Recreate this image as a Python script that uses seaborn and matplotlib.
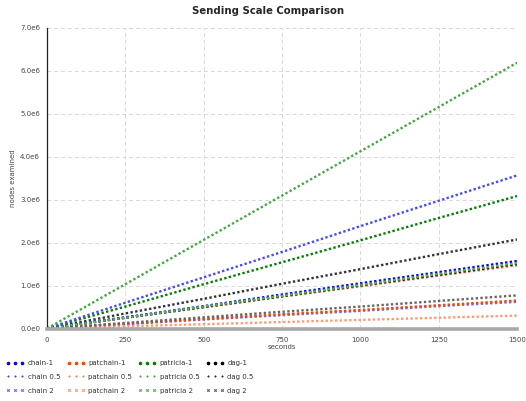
import matplotlib
matplotlib.use("Agg")
import matplotlib.pyplot as plt
from matplotlib.lines import Line2D
from matplotlib.ticker import FuncFormatter, MultipleLocator
import seaborn as sns
import pandas as pd

# elapsed time (seconds) at which node counts were sampled
seconds = [0, 250, 500, 750, 1000, 1250, 1500]

# nodes examined, in millions
chain_1 = [0, 0.26, 0.52, 0.79, 1.05, 1.31, 1.57]
chain_05 = [0, 0.60, 1.19, 1.78, 2.38, 2.97, 3.56]
chain_2 = [0, 0.10, 0.21, 0.31, 0.41, 0.52, 0.62]
patchain_1 = [0, 0.11, 0.22, 0.33, 0.43, 0.54, 0.65]
patchain_05 = [0, 0.25, 0.49, 0.74, 0.98, 1.23, 1.47]
patchain_2 = [0, 0.05, 0.10, 0.15, 0.20, 0.25, 0.30]
patricia_1 = [0, 0.51, 1.03, 1.54, 2.05, 2.57, 3.08]
patricia_05 = [0, 1.03, 2.06, 3.09, 4.12, 5.15, 6.18]
patricia_2 = [0, 0.25, 0.51, 0.76, 1.01, 1.27, 1.52]
dag_1 = [0, 0.25, 0.50, 0.75, 1.00, 1.25, 1.50]
dag_05 = [0, 0.35, 0.69, 1.04, 1.38, 1.73, 2.07]
dag_2 = [0, 0.13, 0.26, 0.39, 0.51, 0.64, 0.77]

labels = ["chain-1", "chain 0.5", "chain 2",
          "patchain-1", "patchain 0.5", "patchain 2",
          "patricia-1", "patricia 0.5", "patricia 2",
          "dag-1", "dag 0.5", "dag 2"]
series = [chain_1, chain_05, chain_2,
          patchain_1, patchain_05, patchain_2,
          patricia_1, patricia_05, patricia_2,
          dag_1, dag_05, dag_2]
colors = ["#0000ff", "#4848ff", "#6a6aff",
          "#ff4000", "#ff7a50", "#ff9a70",
          "#008000", "#40aa40", "#55b555",
          "#000000", "#333333", "#666666"]
markers = ["o", "+", "x"] * 4

sns.set_style("white")
plt.rcParams["font.family"] = ["DejaVu Sans"]

fig = plt.figure(figsize=(5.26, 4.01), dpi=100)
ax = fig.add_axes([47 / 526, 1 - 328.5 / 401, 470 / 526, 301 / 401])

rows = []
for name, vals in zip(labels, series):
    for s, v in zip(seconds, vals):
        rows.append({"seconds": s, "nodes": v * 1e6, "series": name})
df = pd.DataFrame(rows)

draw_order = [2, 5, 4, 3, 11, 10, 9, 0, 8, 6, 1, 7]
for i in draw_order:
    sub = df[df["series"] == labels[i]]
    sns.lineplot(data=sub, x="seconds", y="nodes", ax=ax, color=colors[i],
                 linestyle=(0, (1, 1.0)), linewidth=1.7, legend=False)

ax.set_xlim(0, 1500)
ax.set_ylim(0, 7e6)
ax.xaxis.set_major_locator(MultipleLocator(250))
ax.xaxis.set_minor_locator(MultipleLocator(25))
ax.yaxis.set_major_locator(MultipleLocator(1e6))
ax.yaxis.set_minor_locator(MultipleLocator(2e5))


def fmt_y(v, _):
    if v == 0:
        return "0.0e0"
    return f"{v / 1e6:.1f}e6"


ax.yaxis.set_major_formatter(FuncFormatter(fmt_y))
ax.grid(True, which="major", color="#d8d8d8", linestyle=(0, (4, 3)), linewidth=0.7)

for side in ["top", "right"]:
    ax.spines[side].set_visible(False)
ax.spines["left"].set_color("#222222")
ax.spines["left"].set_linewidth(0.9)
ax.spines["bottom"].set_color("#a8a8a8")
ax.spines["bottom"].set_linewidth(2.6)

ax.tick_params(axis="y", which="major", direction="inout", length=4, width=0.7,
               color="#222222", labelsize=5, labelcolor="#444444", pad=3)
ax.tick_params(axis="y", which="minor", direction="in", length=2, width=0.6,
               color="#222222")
ax.tick_params(axis="x", which="major", direction="in", length=3, width=0.7,
               color="#666666", labelsize=5, labelcolor="#444444", pad=6)
ax.tick_params(axis="x", which="minor", direction="in", length=2, width=0.6,
               color="#666666")

ax.set_xlabel("seconds", fontsize=5, color="#444444", labelpad=1)
ax.set_ylabel("nodes examined", fontsize=5, color="#444444", labelpad=3)
fig.text(268 / 526, 1 - 11 / 401, "Sending Scale Comparison", fontsize=7.3,
         fontweight="bold", ha="center", va="center")

handles = [Line2D([], [], linestyle="", marker=m, color=c, markersize=1.8,
                  markeredgewidth=0.8)
           for m, c in zip(markers, colors)]
fig.legend(handles, labels, loc="upper left", bbox_to_anchor=(0.0, 0.118),
           ncol=4, frameon=False, fontsize=5, numpoints=3, handlelength=2.6,
           handletextpad=0.5, columnspacing=0.9, labelspacing=1.15,
           labelcolor="#333333")

fig.savefig("out.png", dpi=100)
